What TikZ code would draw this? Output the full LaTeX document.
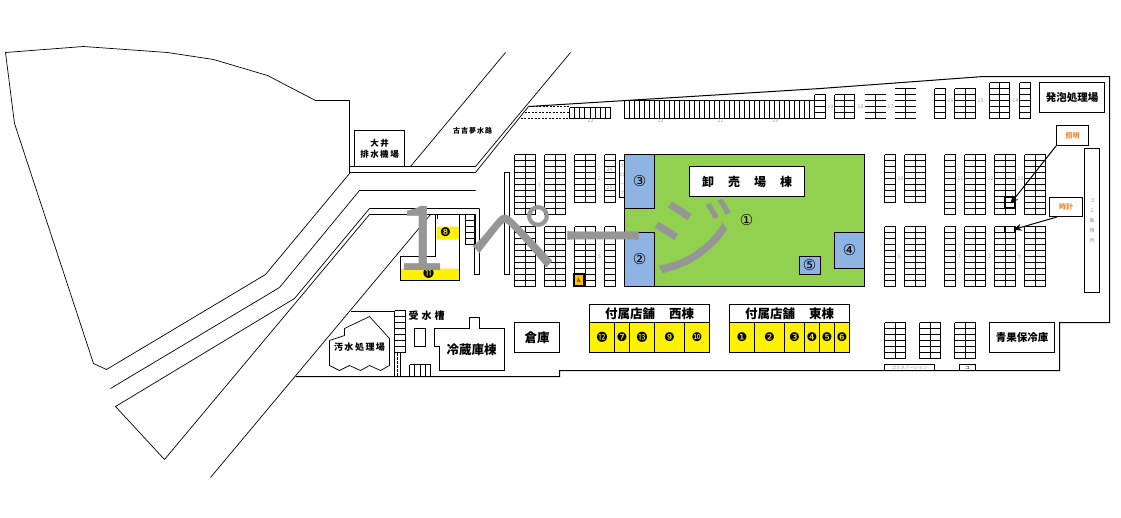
\documentclass[tikz,border=0pt]{standalone}
\usepackage{fontspec}
\usetikzlibrary{arrows.meta}
\newfontfamily\jpfont{Noto Sans CJK JP}
\newfontfamily\symfont{DejaVu Sans}
\definecolor{hallgreen}{RGB}{146,208,80}
\definecolor{hallblue}{RGB}{141,180,226}
\definecolor{lampblock}{RGB}{255,192,0}
\definecolor{noteorange}{RGB}{240,140,60}
\definecolor{tinygray}{RGB}{150,150,165}
\definecolor{pagemark}{RGB}{150,150,150}
\tikzset{%
	box/.style={draw,fill=white,line width=1pt,inner sep=0pt,font=\jpfont\bfseries},
	site/.style={line width=0.7pt,line join=round},
	wall/.style={line width=1pt},
	tiny/.style={inner sep=0pt,text=tinygray,font=\jpfont\fontsize{5}{5}\selectfont},
	posnum/.style={inner sep=0pt,font=\symfont\fontsize{15}{15}\selectfont},
	negnum/.style={inner sep=0pt,font=\symfont\fontsize{12}{12}\selectfont},
	note/.style={draw,fill=white,line width=1pt,inner sep=0pt,text=noteorange,font=\jpfont\bfseries\fontsize{7}{7}\selectfont},
	pointer/.style={-{Stealth[length=8pt,width=7pt]},line width=1pt}
}
\newcommand{\jpnum}[1]{{\jpfont\fontsize{11}{11}\selectfont #1}}
\newcommand{\lot}[6]{%
	\foreach \i in {0,...,#6} \draw[wall] (#1,{#2+(#4-#2)*\i/#6}) -- (#3,{#2+(#4-#2)*\i/#6});
	\foreach \j in {0,...,#5} \draw[wall] ({#1+(#3-#1)*\j/#5},#2) -- ({#1+(#3-#1)*\j/#5},#4);
}
\newcommand{\rack}[5]{%
	\foreach \i in {0,...,#5} \draw[wall] (#1,{#2+(#4-#2)*\i/#5}) -- (#3,{#2+(#4-#2)*\i/#5});
	\draw[wall] ({(#1+#3)/2},#2) -- ({(#1+#3)/2},#4);
}
\begin{document}
\begin{tikzpicture}[x=1pt,y=-1pt]
	\path[use as bounding box] (-0.5,-0.5) rectangle (1120.5,516.5);

	\draw[site] (5,52) -- (83,46) -- (167,52) -- (213,59) -- (267,75) -- (315,100) -- (349,100) -- (349,173) -- (265,274) -- (106,369) -- (93,363) -- (14,123) -- cycle;
	\draw[site] (475,190) -- (359,190) -- (279,287) -- (110,388);
	\draw[site] (479,208) -- (369,208) -- (294,298) -- (115,406) -- (164,459) -- (369,214) -- (474,214);
	\draw[site] (430,214) -- (210,477);
	\draw[wall] (349,166) -- (475,166) (349,172) -- (475,172);
	\draw[site] (410,166) -- (505,52) (475,166) -- (570,52) (475,172) -- (528,106);
	\draw[wall] (295,376) -- (559,376) -- (559,370) -- (1059,370) -- (1059,322) -- (1109,322) -- (1109,76) -- (983,76) -- (820,88) -- (528,106);
	\draw[wall,dash pattern=on 2pt off 1.5pt] (528,106) -- (569,106) (524,112) -- (569,112) (520,118) -- (569,118);

	\fill[hallgreen] (624,154) rectangle (864,286);
	\draw[wall] (624,154) rectangle (864,286);
	\foreach \a/\b/\c/\d in {624/154/654/208,624/232/654/286,834/232/864/268,799/256/820/274}
		\draw[wall,fill=hallblue] (\a,\b) rectangle (\c,\d);
	\node[posnum] (hallmain) at (746,220) {①};
	\node[posnum] (hallb) at (639,259) {②};
	\node[posnum] (hallc) at (639,181) {③};
	\node[posnum] (halld) at (849,250) {④};
	\node[posnum] (halle) at (809,265) {⑤};
	\node[box,minimum width=115pt,minimum height=30pt,font=\jpfont\bfseries\fontsize{12}{12}\selectfont] (hallname) at (746.5,181) {卸\hspace{14pt}売\hspace{14pt}場\hspace{14pt}棟};

	\lot{569}{107}{610}{118}{8}{1}
	\lot{624}{100}{814}{118}{38}{1}
	\lot{814}{94}{825}{118}{1}{4}
	\lot{834}{94}{854}{118}{2}{4}
	\rack{864}{94}{885}{118}{4}
	\rack{894}{88}{915}{118}{5}
	\lot{934}{88}{945}{118}{1}{5}
	\lot{954}{88}{975}{118}{2}{5}
	\lot{989}{82}{1009}{118}{2}{6}
	\lot{1019}{82}{1030}{118}{1}{6}

	\foreach \a/\c/\n in {514/535/2,544/565/2,944/955/1,964/985/2,994/1015/2,1024/1045/2} {
		\lot{\a}{154}{\c}{214}{\n}{10}
	}
	\foreach \a/\c/\n in {574/595/2,604/615/1,884/895/1,904/925/2} {
		\lot{\a}{154}{\c}{202}{\n}{8}
	}
	\foreach \a/\c/\n in {514/535/2,544/565/2,574/595/2,604/615/1,884/895/1,904/925/2,944/955/1,964/985/2,994/1015/2,1024/1045/2} {
		\lot{\a}{226}{\c}{286}{\n}{10}
	}
	\foreach \a/\c in {884/905,919/940,954/975} {
		\lot{\a}{322}{\c}{358}{2}{6}
	}
	\lot{465}{214}{475}{244}{1}{5}
	\lot{394}{310}{405}{352}{1}{7}
	\lot{409}{364}{430}{376}{4}{1}

	\draw[wall] (504,172) rectangle (509,274);
	\draw[wall] (474,214) -- (474,274) -- (479,274) -- (479,208);
	\draw[wall] (350,311) -- (394,311);
	\draw[wall] (394,352) rectangle (400,376);
	\draw[line width=1.5pt,dash pattern=on 3pt off 1pt] (397,352) -- (397,376);

	\fill[yellow] (400,268) rectangle (459,280) (436,226) rectangle (459,239);
	\draw[wall] (435,214) -- (435,256) -- (400,256) -- (400,280) -- (459,280) -- (459,214);
	\draw[line width=1.5pt] (437,214) -- (437,218);
	\node[negnum] (storeupper) at (445,232) {❽};
	\node[negnum] (storelower) at (428,273) {\jpnum{⓫}};

	\draw[site] (369,316) -- (389,338) -- (389,365) -- (380,370) -- (369,365) -- (360,370) -- (349,365) -- (339,370) -- (329,365) -- (329,340) -- (344,335) -- (344,328) -- cycle;
	\node[inner sep=0pt,font=\jpfont\bfseries\fontsize{9}{9}\selectfont] (sewage) at (359,347) {汚\hspace{1.5pt}水\hspace{1.5pt}処\hspace{1.5pt}理\hspace{1.5pt}場};
	\node[inner sep=0pt,font=\jpfont\bfseries\fontsize{10}{10}\selectfont] (watertank) at (426,315) {受\hspace{3pt}水\hspace{3pt}槽};
	\draw[wall] (414,328) rectangle (425,346);
	\draw[wall,fill=white] (434,328) -- (469,328) -- (469,317) -- (479,317) -- (479,328) -- (504,328) -- (504,370) -- (439,370) -- (439,346) -- (434,346) -- cycle;
	\node[inner sep=0pt,font=\jpfont\bfseries\fontsize{12.5}{12.5}\selectfont] (coldstore) at (471,349) {冷蔵庫棟};

	\node[box,minimum width=50pt,minimum height=36pt,align=center,font=\jpfont\bfseries\fontsize{8.5}{11}\selectfont] (pumpstation) at (379,148) {大\hspace{1.5pt}井\\排\hspace{1.5pt}水\hspace{1.5pt}機\hspace{1.5pt}場};
	\node[inner sep=0pt,font=\jpfont\bfseries\fontsize{7}{7}\selectfont] (channel) at (472,130) {古\hspace{1pt}吉\hspace{1pt}夢\hspace{1pt}水\hspace{1pt}路};
	\node[box,minimum width=65pt,minimum height=30pt,font=\jpfont\bfseries\fontsize{10.5}{10.5}\selectfont] (foamplant) at (1071.5,97) {発泡処理場};
	\node[box,minimum width=65pt,minimum height=30pt,font=\jpfont\bfseries\fontsize{10.5}{10.5}\selectfont] (produce) at (1021.5,337) {青果保冷庫};
	\node[box,minimum width=45pt,minimum height=30pt,font=\jpfont\bfseries\fontsize{12.5}{12.5}\selectfont] (warehouse) at (536.5,337) {倉庫};

	\foreach \s/\a/\t in {west/589/付属店舗\hspace{14pt}西棟,east/729/付属店舗\hspace{14pt}東棟}
		\node[box,minimum width=120pt,minimum height=18pt,font=\jpfont\bfseries\fontsize{12.5}{12.5}\selectfont] (shop\s) at ({\a+60},313) {\t};
	\foreach \a/\b/\t in {589/614/\jpnum{⓬},614/629/❼,629/654/\jpnum{⓭},654/684/❾,684/709/❿,729/754/❶,754/784/❷,784/804/❸,804/819/❹,819/834/❺,834/849/❻} {
		\draw[wall,fill=yellow] (\a,322) rectangle (\b,352);
		\node[negnum] (cell\a) at ({(\a+\b)/2},337) {\t};
	}

	\draw[wall,fill=lampblock,line width=1.5pt] (573.5,273.5) rectangle (583.5,285.5);
	\node[inner sep=0pt,font=\symfont\fontsize{6}{6}\selectfont] (accessmark) at (578.5,279.5) {♿};

	\foreach \x/\y/\t in {830/106/19,860/106/18,890/106/17,950/100/16,980/100/15,1015/100/14,590/120/23,660/120/22,720/120/21,775/120/20,900/178/10,960/178/11,990/178/12,1020/178/13,899/256/6,959/256/7,989/256/8,1019/256/9,539/184/1,599/178/2,539/256/4,599/256/5,609/169/24,609/187/25}
		\node[tiny] (num\t) at (\x,\y) {\t};

	\node[draw,line width=1pt,inner sep=0pt,minimum width=5pt,minimum height=37pt,align=center,text=tinygray,font=\jpfont\fontsize{4.5}{9}\selectfont] (ramp) at (621.5,178.5) {ス\\ロ\\ー\\プ};
	\node[draw,line width=1pt,minimum width=50pt,minimum height=6pt,inner sep=0pt,text=tinygray,font=\jpfont\fontsize{4.5}{4.5}\selectfont] (station) at (909,367) {ゴミステーション};
	\node[draw,line width=1pt,minimum width=16pt,minimum height=6pt,inner sep=0pt,font=\jpfont\fontsize{4.5}{4.5}\selectfont] (stationb) at (967,367) {ユ};
	\draw[wall] (1084,148) rectangle (1099,292);
	\foreach \y/\t in {200/ゴ,210/ミ,220/集,230/積,240/所}
		\node[tiny] (bin\y) at (1091.5,\y) {\t};

	\draw[line width=1.8pt] (1004,196.5) rectangle (1014,207);
	\draw[line width=1.8pt] (1004,226) rectangle (1014,232);
	\node[note,minimum width=32pt,minimum height=20pt] (lightnote) at (1072,135) {照明};
	\node[note,minimum width=33pt,minimum height=19pt] (clocknote) at (1065.5,206.5) {時計};
	\coordinate (lighttip) at (1010,203);
	\coordinate (clocktip) at (1013,229);
	\draw[pointer] (lightnote.south west) -- (lighttip);
	\draw[pointer] (clocknote.south) ++(-9,0) -- (clocktip);

	\node[anchor=base west,inner sep=0pt,text=pagemark,font=\jpfont\fontsize{90}{90}\selectfont] (pagemark) at (396,270) {1\hspace{22pt}ページ};
\end{tikzpicture}
\end{document}
